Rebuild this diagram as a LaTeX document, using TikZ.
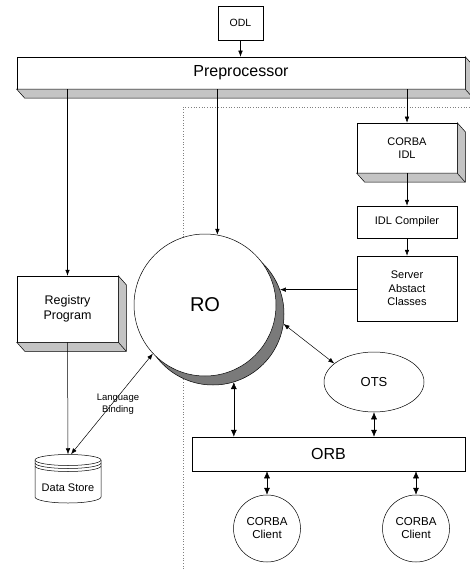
\documentclass[tikz,border=0pt]{standalone}
\usepackage{fontspec}
\setmainfont{Liberation Sans}
\usetikzlibrary{arrows.meta,shapes.geometric}
\definecolor{facegray}{HTML}{C4C4C4}
\definecolor{orbshadow}{HTML}{7A7A7A}
% extruded lower-right faces of a raised box
\newcommand\raisedfaces[1]{%
  \filldraw[fill=facegray, line width=0.5pt]
    (#1.south west) -- ++(8,9) -- ([shift={(8,9)}]#1.south east)
    -- ([shift={(8,9)}]#1.north east) -- (#1.north east) -- (#1.south east) -- cycle;
  \draw[line width=0.5pt] (#1.south east) -- ([shift={(8,9)}]#1.south east);}
\begin{document}
\begin{tikzpicture}[x=1pt, y=-1pt, line width=0.5pt,
  box/.style={draw, fill=white, rectangle, inner sep=0pt, align=center},
  arr/.style={-{Latex[length=6pt,width=4.5pt]}},
  sarr/.style={{Latex[length=6pt,width=4.5pt]}-{Latex[length=6pt,width=4.5pt]}},
  barr/.style={{Latex[length=7pt,width=6pt]}-{Latex[length=7pt,width=6pt]}},
  ]
\useasboundingbox (0,0) rectangle (469,569);

% boundary of the CORBA side
\coordinate (corner) at (183,107);
\draw[dotted, gray, line width=0.7pt] (183,569) -- (corner) -- (469,107);

% boxes
\node[box, minimum width=45, minimum height=34, font=\fontsize{10.5}{12}\selectfont] (odl) at (240.5,23) {ODL};
\node[box, minimum width=448, minimum height=32, font=\fontsize{16}{18}\selectfont] (pre) at (241,73) {Preprocessor};
\raisedfaces{pre}
\node[box, minimum width=101, minimum height=66, font=\fontsize{12.5}{15}\selectfont] (reg) at (67.5,309) {Registry\\Program};
\raisedfaces{reg}
\node[box, minimum width=100, minimum height=50, font=\fontsize{11}{12.5}\selectfont] (cidl) at (407,148) {CORBA\\IDL};
\raisedfaces{cidl}
\node[box, minimum width=100, minimum height=32, font=\fontsize{11}{13}\selectfont] (comp) at (407,222) {IDL Compiler};
\node[box, minimum width=100, minimum height=65, font=\fontsize{11}{13.3}\selectfont] (srv) at (407,288.5) {Server\\Abstact\\Classes};

% RO with its shadow
\node[circle, draw, fill=orbshadow, minimum size=142, inner sep=0pt] (roshadow) at (213,314) {};
\node[circle, draw, fill=white, minimum size=142, inner sep=0pt, font=\fontsize{20}{24}\selectfont] (ro) at (205,305) {RO};

\node[ellipse, draw, fill=white, minimum width=100, minimum height=60, inner sep=0pt, font=\fontsize{13}{15}\selectfont] (ots) at (374,382) {OTS};
\node[box, minimum width=273, minimum height=34, font=\fontsize{16}{19}\selectfont] (orb) at (328.5,454) {ORB};
\node[circle, draw, fill=white, minimum size=67, inner sep=0pt, align=center, font=\fontsize{11.5}{13}\selectfont] (cl1) at (267,528.5) {CORBA\\Client};
\node[circle, draw, fill=white, minimum size=67, inner sep=0pt, align=center, font=\fontsize{11.5}{13}\selectfont] (cl2) at (416,528.5) {CORBA\\Client};

% data store cylinder
\node[inner sep=0pt, minimum width=66, minimum height=49] (ds) at (68,479) {};
\filldraw[fill=white] (35,460) -- (35,497) arc[start angle=180, end angle=0, x radius=33, y radius=6] -- (101,460);
\draw[fill=white] (68,460) ellipse [x radius=33, y radius=5.5];
\draw (35,463) arc[start angle=180, end angle=0, x radius=33, y radius=5.5];
\draw (35,466) arc[start angle=180, end angle=0, x radius=33, y radius=5.5];
\node[inner sep=0pt, font=\fontsize{11}{13}\selectfont] (dslabel) at (68,488) {Data Store};

% connectors
\draw[arr] (odl.south) -- (odl.south |- pre.north);
\draw[arr] (pre.south -| reg.north) -- (reg.north);
\draw[arr] (pre.south -| ro.80) -- (ro.80);
\draw[arr] (pre.south -| cidl.north) -- (cidl.north);
\draw[arr] (cidl.south) -- (comp.north);
\draw[arr] (comp.south) -- (srv.north);
\draw[arr] (srv.west |- roshadow.20) -- (roshadow.20);
\draw[arr] (reg.south) -- (ds.north);
\draw[sarr] (ro.223) -- node[font=\fontsize{9.5}{12}\selectfont, align=center, inner sep=1pt, xshift=6pt] (lbl) {Language\\Binding} ([xshift=3pt]ds.north);
\draw[sarr] (roshadow.-8) -- (ots.155);
\draw[barr] (roshadow.-73) -- (orb.north -| roshadow.-73);
\draw[barr] (ots.south) -- (orb.north -| ots.south);
\draw[barr] (orb.south -| cl1.north) -- (cl1.north);
\draw[barr] (orb.south -| cl2.north) -- (cl2.north);
\end{tikzpicture}
\end{document}
